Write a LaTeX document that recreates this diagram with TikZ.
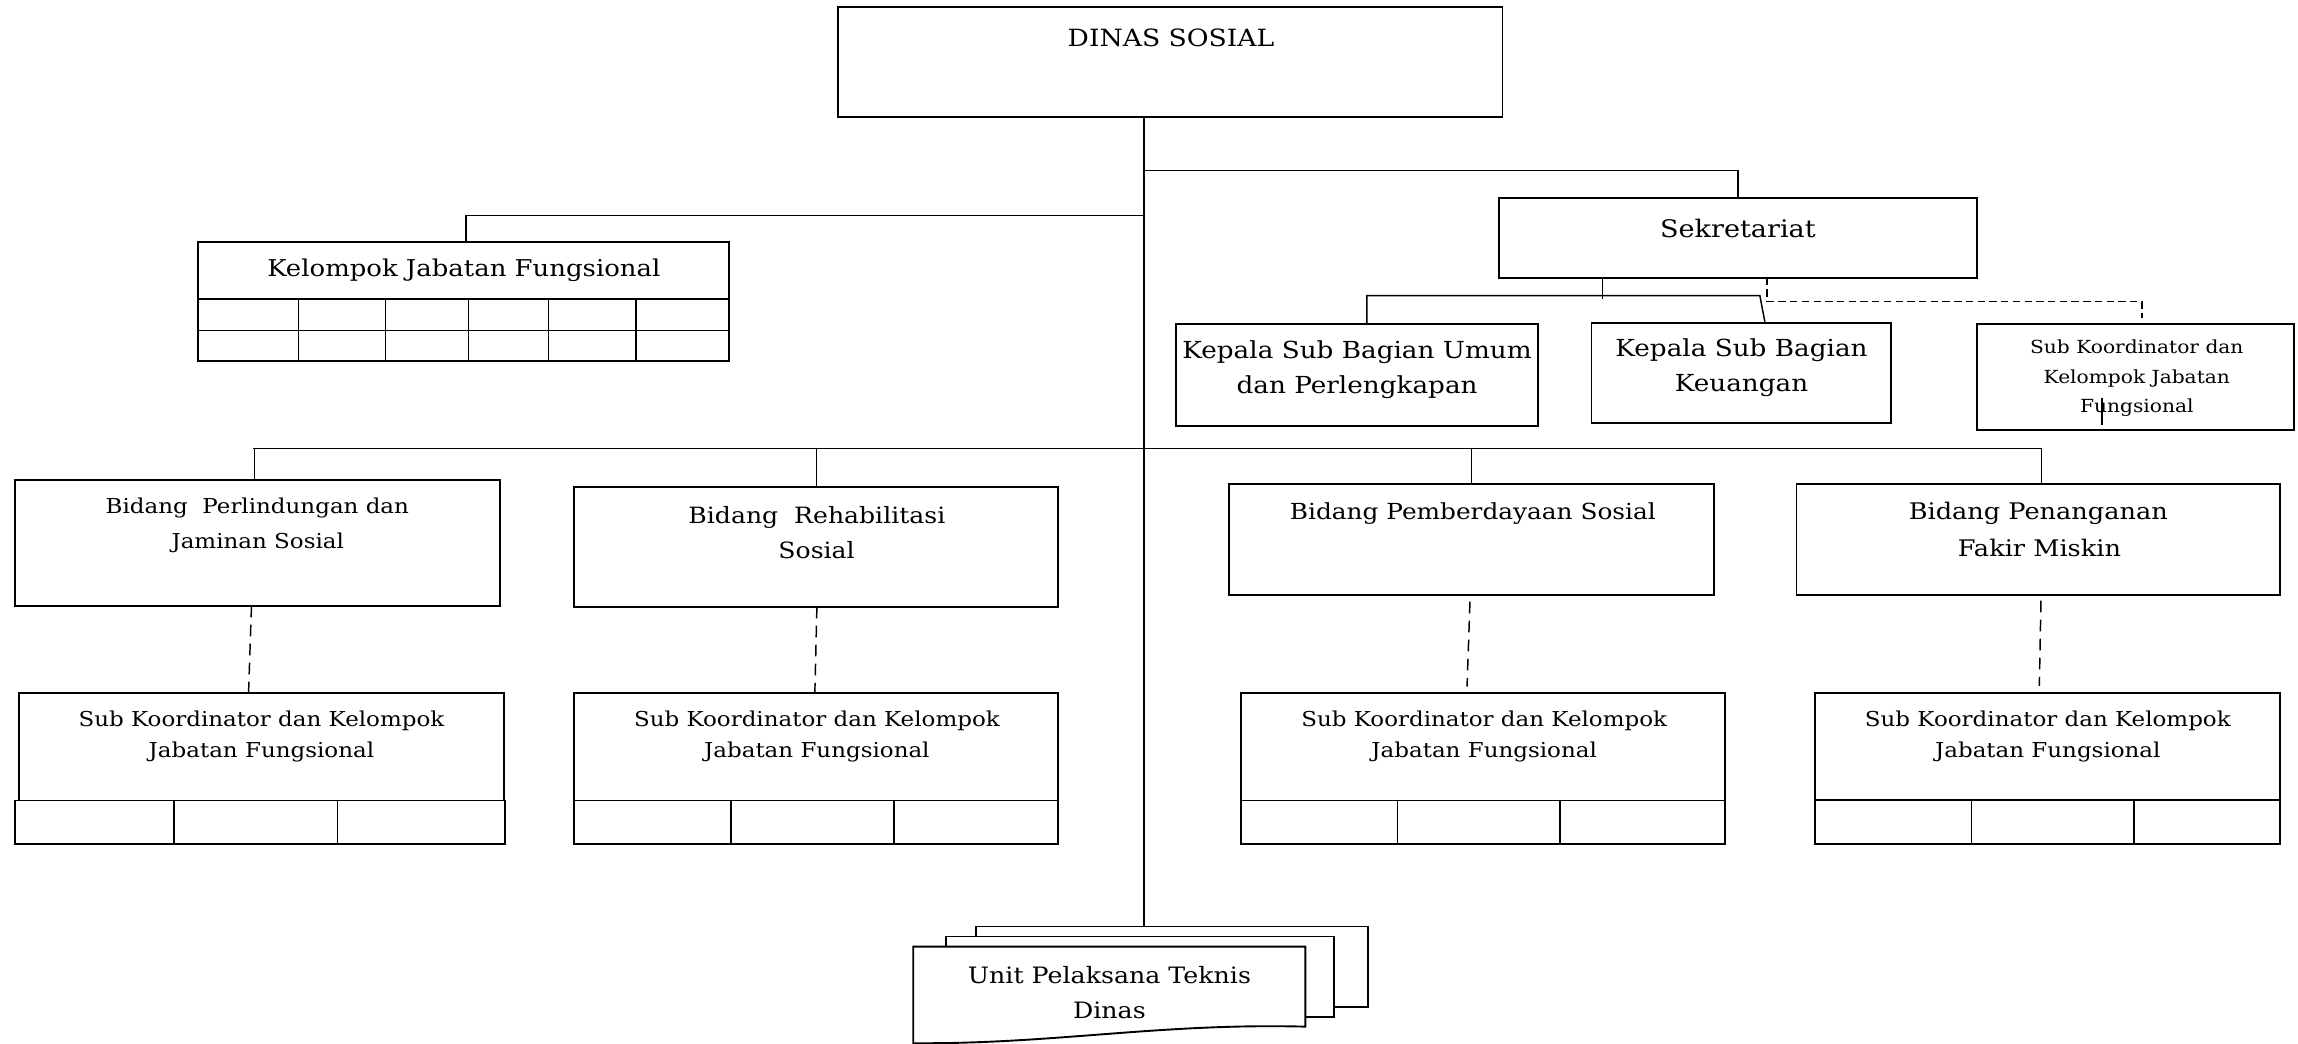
\documentclass[tikz,border=0pt]{standalone}
\usepackage{fontspec}
\setmainfont{DejaVu Serif}[FakeStretch=1.12]
\usetikzlibrary{fit}
\newcommand\fsz[1]{\fontsize{#1}{#1}\selectfont}

\begin{document}
\begin{tikzpicture}[x=1pt,y=-1pt,
  bx/.style={draw, line width=1.3pt, inner sep=0pt},
  cell/.style={line width=1pt},
  link/.style={line width=1pt},
  dlink/.style={line width=1pt, dash pattern=on 8pt off 5pt},
  dlinks/.style={line width=1pt, dash pattern=on 5pt off 3pt},
  txt/.style={anchor=base, inner sep=0pt}]

\fill[white] (0,0) rectangle (1568,712);
\useasboundingbox (0,0) rectangle (1568,712);

% ---------- top level ----------
\node[bx, fit={(572,5) (1025.2,80)}] (dinas) {};
\node[txt, font=\fsz{16.2}] (t-dinas) at (799,31.9) {DINAS SOSIAL};

\node[bx, fit={(1022.5,135.3) (1349.1,189.4)}] (sekr) {};
\node[txt, font=\fsz{16.5}] (t-sekr) at (1185.8,161.9) {Sekretariat};

% functional group with its grid
\node[bx, fit={(135,164.9) (497.5,204.2)}] (kjf) {};
\node[txt, font=\fsz{15.8}] (t-kjf) at (316.5,188.8) {Kelompok Jabatan Fungsional};
\node[bx, fit={(135,204.2) (497.5,246.5)}] (kjfg) {};
\draw[cell] (kjfg.west |- 0,225.6) -- (kjfg.east |- 0,225.6);
\foreach \cx in {203.6,263.2,319.7,374.3,433.8}
  \draw[cell] (\cx,204.2) -- (\cx,246.5);

% ---------- secretariat units ----------
\node[bx, fit={(802.2,221) (1049.4,290.4)}] (umum) {};
\node[txt, font=\fsz{16}] (t-umum-a) at (926,244.5) {Kepala Sub Bagian Umum};
\node[txt, font=\fsz{16}] (t-umum-b) at (926,268.3) {dan Perlengkapan};

\node[bx, fit={(1085.9,220.1) (1290.2,288.8)}] (keu) {};
\node[txt, font=\fsz{16}] (t-keu-a) at (1188.3,243.3) {Kepala Sub Bagian};
\node[txt, font=\fsz{16}] (t-keu-b) at (1188.3,267.2) {Keuangan};

\node[bx, fit={(1349.1,221) (1565.4,293.4)}] (skr) {};
\node[txt, font=\fsz{12.3}] (t-skr-a) at (1458,241.5) {Sub Koordinator dan};
\node[txt, font=\fsz{12.3}] (t-skr-b) at (1458,261.5) {Kelompok Jabatan};
\node[txt, font=\fsz{12.3}] (t-skr-c) at (1458,281.3) {Fungsional};
\draw[link] (1434.1,271.7) -- (1434.1,289.9);

% ---------- divisions ----------
\node[bx, fit={(10,327.5) (341.3,413.2)}] (b1) {};
\node[txt, font=\fsz{14}] (t-b1-a) at (175.6,350.3) {Bidang~~Perlindungan dan};
\node[txt, font=\fsz{14}] (t-b1-b) at (175.9,374.1) {Jaminan Sosial};

\node[bx, fit={(391.8,332.5) (722.1,413.9)}] (b2) {};
\node[txt, font=\fsz{15.3}] (t-b2-a) at (557.4,357.1) {Bidang~~Rehabilitasi};
\node[txt, font=\fsz{15.3}] (t-b2-b) at (557.2,381.4) {Sosial};

\node[bx, fit={(838.6,330.2) (1169.8,405.9)}] (b3) {};
\node[txt, font=\fsz{15.1}] (t-b3) at (1005,354.3) {Bidang Pemberdayaan Sosial};

\node[bx, fit={(1225.8,330.5) (1555.4,405.9)}] (b4) {};
\node[txt, font=\fsz{15.6}] (t-b4-a) at (1390.8,354.3) {Bidang Penanganan};
\node[txt, font=\fsz{15.6}] (t-b4-b) at (1391.6,379.8) {Fakir Miskin};

% ---------- coordinator groups under each division ----------
\node[bx, fit={(13,472.6) (343.8,546.2)}] (s1) {};
\node[bx, fit={(10,546.2) (344.3,575.8)}] (s1g) {};
\node[bx, fit={(391.8,472.6) (722.1,546.2)}] (s2) {};
\node[bx, fit={(391.8,546.2) (722.1,575.8)}] (s2g) {};
\node[bx, fit={(846.6,472.6) (1177.3,546.2)}] (s3) {};
\node[bx, fit={(846.6,546.2) (1177.3,575.8)}] (s3g) {};
\node[bx, fit={(1238.3,472.6) (1555.4,545.8)}] (s4) {};
\node[bx, fit={(1238.3,545.8) (1555.4,575.8)}] (s4g) {};
\foreach \cx in {118.6,230.2,498.9,610,953.5,1064.4}
  \draw[cell] (\cx,546.2) -- (\cx,575.8);
\foreach \cx in {1345.1,1456}
  \draw[cell] (\cx,545.8) -- (\cx,575.8);

\foreach \n/\cx in {1/178.4,2/557.4,3/1012.7,4/1397.3}{
  \node[txt, font=\fsz{14}] (t-s\n-a) at (\cx,495.8) {Sub Koordinator dan Kelompok};
  \node[txt, font=\fsz{14}] (t-s\n-b) at (\cx,516.7) {Jabatan Fungsional};
}

% ---------- technical units (stacked documents) ----------
\node[bx, fill=white, fit={(666.2,632.2) (933.3,687.3)}] (uback) {};
\node[bx, fill=white, fit={(645.3,639) (910.3,694.1)}] (umid) {};
\coordinate (ufront) at (757,645.9);
\draw[bx, fill=white] (623.1,713) -- (623.1,645.9) -- (890.7,645.9) -- (890.7,700.5)
  .. controls (790,698) and (720,712.5) .. (623.1,711.8) -- cycle;
\node[txt, font=\fsz{15.4}] (t-unit-a) at (757,670.9) {Unit Pelaksana Teknis};
\node[txt, font=\fsz{15.4}] (t-unit-b) at (757,694.8) {Dinas};

% ---------- connectors ----------
\coordinate (trunk) at (780.5,80);
\draw[link] (trunk) -- (trunk |- uback.north);
\coordinate (jsekr) at (780.5,116.2);
\coordinate (jkjf) at (780.5,147.1);
\draw[link] (jsekr) -- (sekr.north |- jsekr) -- (sekr.north);
\draw[link] (jkjf) -- (318,147.1) -- (318,164.9);

% bus to the four divisions
\coordinate (busL) at (172.6,305.9);
\coordinate (busR) at (1393.1,305.9);
\draw[link] (busL) -- (busR);
\draw[link] (173.6,305.9) -- (173.6,327.5);
\draw[link] (b2.north |- busL) -- (b2.north);
\draw[link] (b3.north |- busL) -- (b3.north);
\draw[link] (busR) -- (1393.1,330.5);

% secretariat sub-units
\coordinate (sj) at (1093.4,189.4);
\draw[link] (sj) -- (1093.4,204.2);
\draw[link] (932.6,221) -- (932.6,201.7) -- (1200.8,201.7) -- (1204.3,220.1);
\draw[dlinks] (1205.8,189.4) -- (1205.8,205.8) -- (1461.5,205.8) -- (1461.5,216.7);

% dashed links to coordinator groups
\draw[dlink] (171.6,413.2) -- (169.6,472.6);
\draw[dlink] (557.4,413.9) -- (556,472.6);
\draw[dlink] (1003,410.5) -- (1001,468.5);
\draw[dlink] (1392.6,409.8) -- (1391.5,468);
\end{tikzpicture}
\end{document}
